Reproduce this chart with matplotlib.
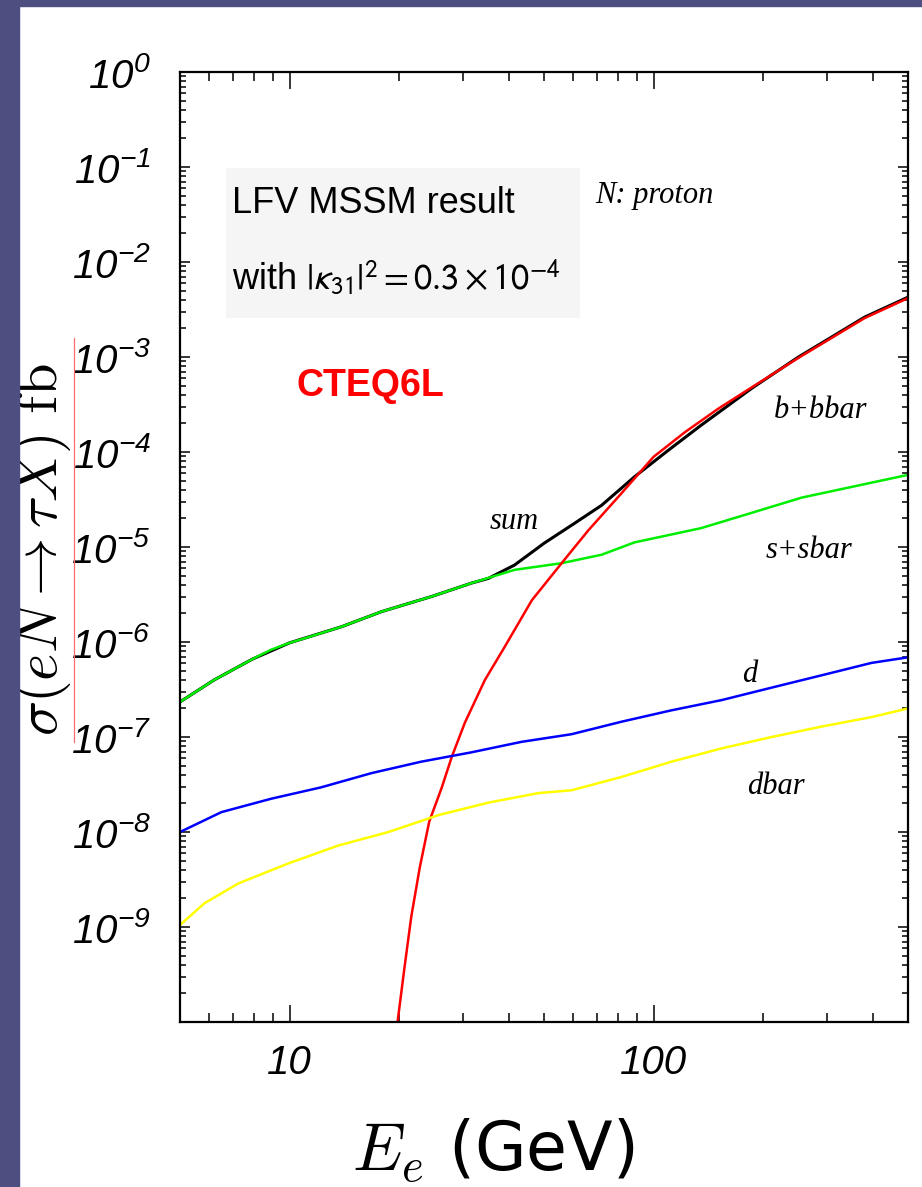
import matplotlib
matplotlib.use("Agg")
import matplotlib.pyplot as plt
from matplotlib.ticker import LogLocator, NullFormatter
from matplotlib.patches import Rectangle
from matplotlib.lines import Line2D

# tick labels: italic sans digits (mathtext puts digits in the rm slot)
plt.rcParams['mathtext.fontset'] = 'custom'
plt.rcParams['mathtext.rm'] = 'Liberation Sans:italic'
plt.rcParams['mathtext.it'] = 'Liberation Sans:italic'
plt.rcParams['mathtext.bf'] = 'Liberation Sans:bold'

# electron beam energy (GeV) and cross sections (fb)
E_sum = [5.0, 6.2, 7.9, 10, 13.9, 17.9, 24.6, 31.6, 35.2, 41.5, 50.1, 60.7,
         72, 88.7, 110, 135, 186, 250, 380, 500]
sig_sum = [2.34e-7, 3.98e-7, 6.6e-7, 9.8e-7, 1.45e-6, 2.09e-6, 3.02e-6, 4.17e-6,
           4.68e-6, 6.46e-6, 1.10e-5, 1.78e-5, 2.75e-5, 5.5e-5, 1.05e-4, 1.91e-4,
           4.68e-4, 1.0e-3, 2.63e-3, 4.27e-3]

E_s = [5.0, 6.2, 7.9, 8.9, 10, 10.8, 13.9, 17.9, 24.6, 31.6, 41.5, 55.9, 72,
       88.7, 135, 186, 255, 500]
sig_s = [2.34e-7, 3.98e-7, 6.6e-7, 8.3e-7, 9.8e-7, 1.07e-6, 1.45e-6, 2.09e-6,
         3.02e-6, 4.17e-6, 5.75e-6, 6.76e-6, 8.3e-6, 1.12e-5, 1.58e-5, 2.29e-5,
         3.31e-5, 5.75e-5]

E_b = [19.8, 20.7, 21.6, 22.8, 24.2, 26.2, 27.9, 30.3, 34.4, 39.0, 46.3, 55.9,
       66.3, 80.1, 100, 122, 151, 186, 250, 380, 500]
sig_b = [1e-10, 3.8e-10, 1.29e-9, 4.27e-9, 1.29e-8, 2.95e-8, 6.17e-8, 1.41e-7,
         3.98e-7, 8.9e-7, 2.75e-6, 6.76e-6, 1.51e-5, 3.39e-5, 8.9e-5, 1.62e-4,
         2.88e-4, 4.79e-4, 9.8e-4, 2.57e-3, 4.17e-3]

E_d = [5.0, 6.5, 8.9, 12.2, 16.8, 23.0, 31.6, 43.4, 59.5, 81.7, 112, 154, 211,
       290, 397, 500]
sig_d = [1.0e-8, 1.62e-8, 2.24e-8, 2.95e-8, 4.17e-8, 5.5e-8, 6.9e-8, 8.9e-8,
         1.07e-7, 1.45e-7, 1.91e-7, 2.45e-7, 3.31e-7, 4.47e-7, 6.03e-7, 6.9e-7]

E_dbar = [5.0, 5.84, 7.24, 9.94, 13.6, 18.7, 25.7, 35.2, 48.3, 59.5, 81.7, 112,
          154, 211, 290, 397, 500]
sig_dbar = [1.05e-9, 1.78e-9, 2.88e-9, 4.68e-9, 7.2e-9, 1.0e-8, 1.51e-8, 2.04e-8,
            2.57e-8, 2.75e-8, 3.8e-8, 5.5e-8, 7.6e-8, 1.0e-7, 1.29e-7, 1.62e-7, 2.0e-7]

y_ticks = [1e0, 1e-1, 1e-2, 1e-3, 1e-4, 1e-5, 1e-6, 1e-7, 1e-8, 1e-9]
y_labels = [r'$10^{0}$', r'$10^{-1}$', r'$10^{-2}$', r'$10^{-3}$', r'$10^{-4}$',
            r'$10^{-5}$', r'$10^{-6}$', r'$10^{-7}$', r'$10^{-8}$', r'$10^{-9}$']
x_ticks = [10, 100]
x_labels = ['10', '100']

fig = plt.figure(figsize=(9.22, 11.87), dpi=100, facecolor='white')

# slide background strips
bg = '#4d4f80'
fig.patches.append(Rectangle((0, 0), 19 / 922, 1, transform=fig.transFigure,
                             color=bg, zorder=0))
fig.patches.append(Rectangle((0, 1 - 6 / 1187), 1, 6 / 1187, transform=fig.transFigure,
                             color=bg, zorder=0))

ax = fig.add_axes([0.1952, 0.1390, 0.7896, 0.8003])
ax.set_xscale('log')
ax.set_yscale('log')
ax.set_xlim(5, 500)
ax.set_ylim(1e-10, 1e0)

ax.plot(E_sum, sig_sum, color='black', lw=2.2)
ax.plot(E_s, sig_s, color='#00ee00', lw=1.8)
ax.plot(E_b, sig_b, color='red', lw=1.8)
ax.plot(E_d, sig_d, color='blue', lw=1.8)
ax.plot(E_dbar, sig_dbar, color='yellow', lw=1.8)

for s in ax.spines.values():
    s.set_linewidth(1.6)

ax.set_yticks(y_ticks, labels=y_labels)
ax.set_xticks(x_ticks, labels=x_labels)
ax.xaxis.set_minor_locator(LogLocator(base=10, subs=range(2, 10), numticks=20))
ax.yaxis.set_minor_locator(LogLocator(base=10, subs=range(2, 10), numticks=30))
ax.xaxis.set_minor_formatter(NullFormatter())
ax.yaxis.set_minor_formatter(NullFormatter())
ax.tick_params(which='both', direction='in', top=True, right=True, width=1.1)
ax.tick_params(axis='x', which='major', length=12, labelsize=29, pad=16)
ax.tick_params(axis='x', which='minor', length=6.5)
ax.tick_params(axis='y', which='major', length=7, labelsize=29, pad=21)
ax.tick_params(axis='y', which='minor', length=4.3)
for t in ax.get_xticklabels():
    t.set_family('Liberation Sans')
    t.set_style('italic')

ax.set_xlabel(r'$E_e$ (GeV)', fontsize=48, family='DejaVu Sans',
              math_fontfamily='cm', va='center')
ax.xaxis.set_label_coords(0.43, -0.135)
ax.set_ylabel(r'$\sigma(eN \rightarrow \tau X)\ \mathrm{fb}$', fontsize=42,
              math_fontfamily='cm', va='center')
ax.yaxis.set_label_coords(-0.19, 0.497)
fig.add_artist(Line2D([74 / 922, 74 / 922], [1 - 338 / 1187, 1 - 742 / 1187],
                      color='#ff6a6a', lw=0.9))

# annotation box
ax.add_patch(Rectangle((0.0632, 0.7411), 0.4863, 0.1578, transform=ax.transAxes,
                       facecolor='#f5f5f5', edgecolor='none', zorder=0))
ax.text(0.0714, 0.8516, 'LFV MSSM result', transform=ax.transAxes, fontsize=26,
        family='Liberation Sans', va='baseline')
ax.text(0.0714, 0.7705, r'with $|\kappa_{31}|^2 = 0.3 \times 10^{-4}$',
        transform=ax.transAxes, fontsize=26, family='Liberation Sans',
        math_fontfamily='stixsans', va='baseline')
ax.text(0.1607, 0.6695, 'CTEQ6L', transform=ax.transAxes, fontsize=27,
        family='Liberation Sans', fontweight='bold', color='red', va='center')

lab = dict(transform=ax.transAxes, fontsize=22, family='Liberation Serif',
           style='italic', ha='center', va='center')
ax.text(0.651, 0.870, 'N: proton', **lab)
ax.text(0.4588, 0.5274, 'sum', **lab)
ax.text(0.8805, 0.6442, 'b+bbar', **lab)
ax.text(0.864, 0.4968, 's+sbar', **lab)
ax.text(0.783, 0.3653, 'd', **lab)
ax.text(0.8187, 0.2474, 'dbar', **lab)

fig.savefig('out.png', dpi=100)
